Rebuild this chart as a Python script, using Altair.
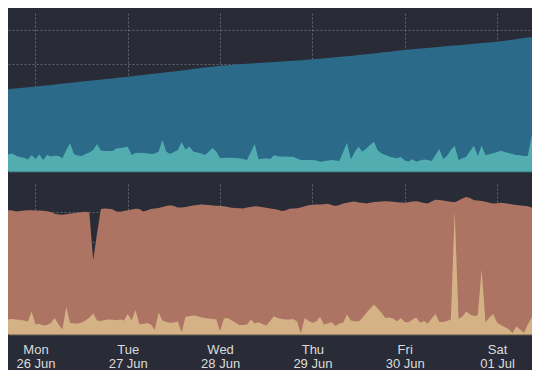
import altair as alt
import pandas as pd

# hours counted from 2023-06-25 00:00 (local)
HOURS = list(range(14, 157))
BLUE_HOURS = list(range(14, 157, 2))

# top panel (cumulative, light series)
blue = [80.7, 81.5, 82.2, 83.0, 83.7, 84.5, 85.3, 86.1, 86.9, 87.7,
        88.5, 89.4, 90.2, 91.0, 91.8, 92.6, 93.5, 94.3, 95.2, 96.1,
        97.0, 97.8, 98.7, 99.6, 100.5, 101.5, 102.4, 103.4, 104.3, 105.3,
        105.8, 106.4, 106.9, 107.4, 108.0, 108.5, 109.0, 109.5, 110.1, 110.6,
        111.1, 111.7, 112.3, 113.0, 113.7, 114.4, 115.1, 115.9, 116.7, 117.6,
        118.5, 119.3, 120.2, 121.1, 121.7, 122.4, 123.1, 123.8, 124.5, 125.2,
        125.8, 126.5, 127.2, 127.9, 128.6, 129.3, 130.3, 131.3, 132.4, 133.4,
        134.4, 135.4]

teal = [15.3, 15.5, 16.2, 16.7, 17.5, 15.0, 14.0, 13.3, 11.5, 16.0,
        12.0, 16.5, 11.0, 16.0, 14.5, 15.3, 15.0, 12.7, 21.0, 27.7,
        17.0, 15.5, 15.0, 17.0, 18.5, 21.0, 27.0, 20.5, 20.0, 20.0,
        20.0, 22.5, 23.0, 23.5, 24.3, 16.0, 18.0, 18.3, 18.0, 17.7,
        17.0, 17.5, 19.3, 31.0, 19.3, 17.0, 19.0, 21.0, 29.0, 21.5,
        24.5, 19.5, 18.5, 17.7, 16.0, 19.0, 23.0, 19.5, 12.7, 13.0,
        13.3, 13.3, 13.0, 12.7, 12.0, 11.0, 19.0, 27.0, 11.7, 12.3,
        12.7, 11.7, 15.7, 14.7, 14.3, 14.5, 14.3, 14.3, 12.5, 11.0,
        11.0, 11.0, 11.0, 10.5, 9.3, 9.7, 10.5, 11.0, 10.5, 10.0,
        19.0, 28.3, 11.7, 19.0, 24.3, 19.3, 22.5, 26.0, 29.3, 20.5,
        17.5, 16.0, 14.5, 13.5, 12.7, 14.0, 10.5, 9.5, 11.7, 9.3,
        10.5, 11.5, 11.0, 10.0, 16.0, 22.0, 12.0, 15.0, 21.0, 25.3,
        11.0, 12.7, 14.3, 20.0, 25.3, 15.0, 25.3, 15.7, 16.7, 17.7,
        19.0, 20.3, 19.0, 18.0, 17.0, 16.0, 15.7, 15.0, 15.0, 35.0,
        53.0, 28.0, 24.0]

# bottom panel
salmon = [125.5, 125.2, 124.5, 123.8, 123.5, 122.5, 123.0, 123.5, 123.8, 123.8,
          123.5, 123.5, 123.2, 122.8, 122.0, 120.2, 119.5, 119.2, 119.8, 120.5,
          120.8, 121.5, 121.8, 122.2, 121.5, 74.0, 100.5, 125.0, 125.5, 125.2,
          124.8, 122.5, 122.2, 123.0, 123.8, 124.5, 125.2, 125.0, 122.5, 123.5,
          125.0, 125.5, 126.0, 127.0, 128.0, 128.8, 128.0, 126.5, 126.5, 127.0,
          127.8, 128.5, 129.0, 129.5, 129.3, 129.0, 128.5, 128.2, 128.0, 127.8,
          127.0, 126.3, 126.0, 125.7, 125.5, 126.5, 127.0, 127.8, 127.5, 126.8,
          126.2, 125.5, 125.0, 124.2, 123.0, 123.5, 125.2, 125.5, 125.8, 126.5,
          127.8, 128.8, 129.2, 129.5, 129.5, 129.8, 130.2, 129.0, 128.0, 129.0,
          130.5, 131.2, 132.0, 132.5, 131.5, 131.2, 130.5, 131.2, 132.0, 132.2,
          132.5, 132.8, 132.5, 132.2, 131.8, 131.5, 131.2, 131.8, 132.5, 132.8,
          132.0, 131.0, 130.5, 132.5, 134.2, 134.0, 133.5, 132.8, 132.2, 131.8,
          133.5, 135.5, 137.0, 136.0, 133.8, 133.5, 133.0, 132.2, 131.3, 130.5,
          130.8, 131.2, 130.8, 130.2, 129.5, 129.0, 128.5, 128.2, 127.7, 126.5,
          125.2, 129.0, 130.5]

tan = [11.0, 11.2, 12.5, 14.5, 15.0, 14.5, 14.0, 13.5, 12.5, 22.5,
       9.5, 10.2, 8.5, 9.0, 11.0, 16.0, 9.5, 4.5, 27.0, 11.0,
       10.5, 10.5, 11.5, 13.5, 16.5, 20.5, 13.5, 13.0, 14.0, 14.5,
       14.2, 13.8, 14.5, 13.5, 20.0, 13.5, 24.0, 10.0, 10.0, 11.0,
       9.5, 4.0, 21.5, 13.5, 12.0, 11.2, 11.5, 12.5, 1.5, 17.2,
       17.8, 18.5, 18.0, 16.8, 16.0, 15.5, 15.0, 14.5, 2.8, 15.5,
       16.0, 13.5, 11.5, 9.0, 9.0, 9.5, 14.5, 10.5, 11.8, 10.0,
       8.5, 13.0, 17.8, 16.0, 15.0, 14.5, 14.5, 15.0, 12.5, 0.5,
       16.0, 13.0, 11.2, 12.5, 17.2, 9.5, 10.5, 11.8, 8.0, 10.5,
       11.5, 19.5, 13.5, 12.8, 12.5, 16.0, 21.0, 25.5, 29.5, 25.5,
       21.0, 16.0, 16.5, 15.5, 12.8, 16.0, 12.0, 11.8, 14.5, 16.5,
       11.2, 13.0, 10.5, 15.5, 20.0, 12.0, 12.0, 13.0, 14.5, 122.5,
       15.0, 17.5, 22.5, 19.5, 18.0, 18.5, 64.5, 11.8, 16.5, 20.0,
       11.5, 9.0, 7.0, 5.0, 1.0, 7.5, 4.5, 1.0, 9.5, 16.5,
       22.5, 9.5, 7.5]

TOP_GRID = [40, 73.5, 107, 141]
BOTTOM_GRID = [31, 61.5, 92, 122]

base = pd.Timestamp("2023-06-25 00:00")
def times(hours):
    return [(base + pd.Timedelta(hours=h)).strftime("%Y-%m-%dT%H:%M:%S") for h in hours]

blue_df = pd.DataFrame({"t": times(BLUE_HOURS), "v": blue})
teal_df = pd.DataFrame({"t": times(HOURS), "v": teal})
salmon_df = pd.DataFrame({"t": times(HOURS), "v": salmon})
tan_df = pd.DataFrame({"t": times(HOURS), "v": tan})

xdom = [alt.DateTime(year=2023, month=6, date=25, hours=16, minutes=51),
        alt.DateTime(year=2023, month=7, date=1, hours=9, minutes=6)]
day_ticks = [alt.DateTime(year=2023, month=6, date=d) for d in range(26, 31)] + \
            [alt.DateTime(year=2023, month=7, date=1)]

W = 524

x_top = alt.X("t:T", scale=alt.Scale(domain=xdom),
              axis=alt.Axis(values=day_ticks, labels=False, ticks=False, domain=True,
                            domainColor="#3f9195", domainWidth=1.5, grid=True, title=None))
y_top = alt.Y("v:Q", scale=alt.Scale(domain=[0, 158], nice=False),
              axis=alt.Axis(values=TOP_GRID, labels=False, ticks=False, domain=False,
                            grid=True, title=None))

top = alt.layer(
    alt.Chart(blue_df).mark_area(color="#2c6a8a", opacity=1, clip=True)
    .encode(x=x_top, y=y_top),
    alt.Chart(teal_df).mark_area(color="#52adb0", opacity=1, clip=True)
    .encode(x=x_top, y=y_top),
).properties(width=W, height=158)

x_bot = alt.X("t:T", scale=alt.Scale(domain=xdom),
              axis=alt.Axis(values=day_ticks, ticks=False, domain=True,
                            domainColor="#9c8468", domainWidth=1.5, grid=True, title=None,
                            labelExpr="[timeFormat(datum.value, '%a'), timeFormat(datum.value, '%d %b')]",
                            labelPadding=9, labelLineHeight=14, labelFlush=False,
                            labelOverlap=False))
y_bot = alt.Y("v:Q", scale=alt.Scale(domain=[0, 150], nice=False),
              axis=alt.Axis(values=BOTTOM_GRID, labels=False, ticks=False, domain=False,
                            grid=True, title=None))

bottom = alt.layer(
    alt.Chart(salmon_df).mark_area(color="#ad7464", opacity=1, clip=True)
    .encode(x=x_bot, y=y_bot),
    alt.Chart(tan_df).mark_area(color="#d5b186", opacity=1, clip=True)
    .encode(x=x_bot, y=y_bot),
).properties(width=W, height=150)

chart = alt.vconcat(top, bottom, spacing=13).properties(
    background="#292c37",
    padding={"left": 0, "right": 0, "top": 5, "bottom": 0},
).configure_view(stroke=None).configure_axis(
    gridColor="#a4a8b3", gridOpacity=0.45, gridDash=[2, 2], gridWidth=1, zindex=1,
    labelColor="#dcdcdc", labelFont="Liberation Sans", labelFontSize=13,
)

chart.save("out.html", embed_options={"renderer": "svg", "actions": False})
